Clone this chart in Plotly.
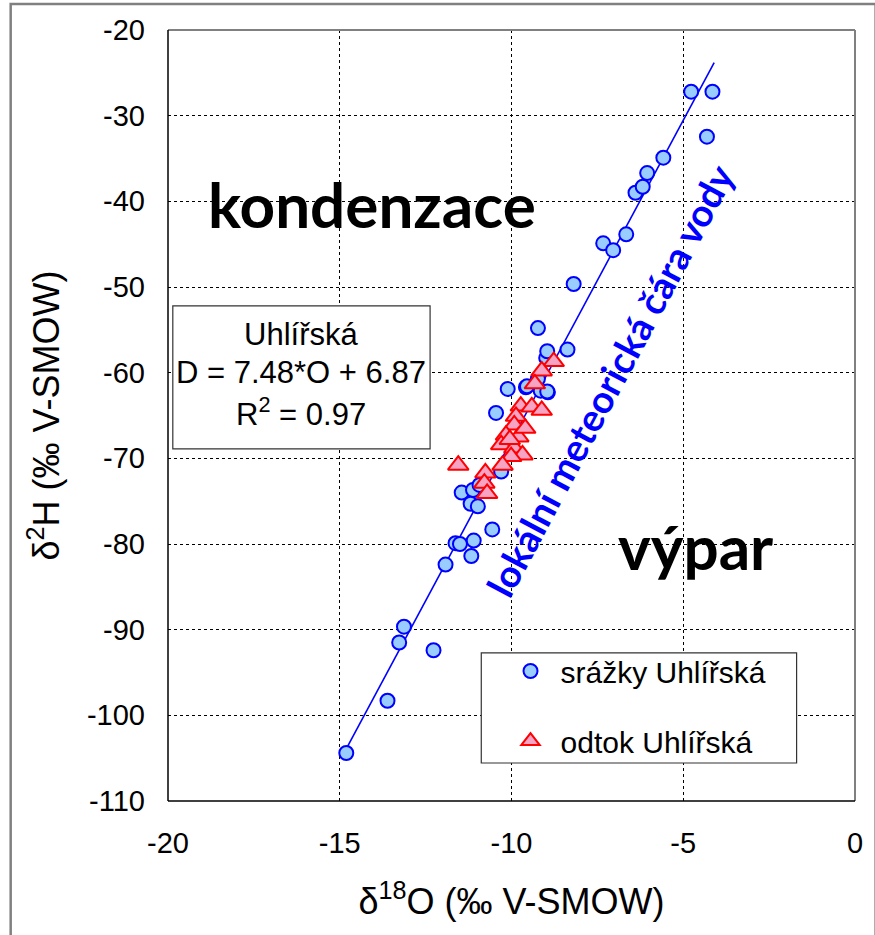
import plotly.graph_objects as go
import numpy as np

# Precipitation (srážky) samples: delta 18O and delta 2H (‰ V-SMOW)
srazky_o18 = [-14.81, -13.61, -13.27, -13.13, -12.27, -11.92, -11.63, -11.50, -11.10,
              -11.17, -11.45, -11.12, -10.93, -11.19, -10.98, -10.56, -10.30, -10.45,
              -10.11, -9.58, -9.15, -8.94, -9.55, -9.23, -8.96, -8.99, -8.96, -8.37,
              -9.23, -8.19, -7.33, -7.04, -6.66, -6.39, -6.18, -6.05, -5.58, -4.77,
              -4.15, -4.31]
srazky_h2 = [-104.4, -98.3, -91.5, -89.65, -92.4, -82.4, -79.9, -80.0, -79.6,
             -81.4, -74.0, -73.7, -73.1, -75.3, -75.6, -78.3, -71.55, -64.7,
             -61.9, -61.7, -62.1, -62.3, -61.6, -60.7, -62.2, -58.3, -57.5, -57.3,
             -54.8, -49.65, -44.9, -45.7, -43.85, -39.0, -38.3, -36.7, -34.9, -27.2,
             -27.2, -32.45]

# Runoff (odtok) samples
odtok_o18 = [-8.77, -9.12, -9.32, -9.73, -9.41, -9.12, -9.87, -9.92, -10.16, -9.80,
             -10.30, -9.92, -9.68, -10.01, -10.26, -11.55, -10.76, -10.79, -10.71,
             -9.60, -10.05]
odtok_h2 = [-58.7, -59.8, -61.3, -63.9, -64.0, -64.4, -65.1, -66.1, -67.3, -67.5,
            -68.4, -68.8, -69.6, -69.8, -70.8, -70.8, -71.7, -72.9, -74.1,
            -66.5, -67.8]

# Local meteoric water line
lmwl_slope = 7.48
lmwl_intercept = 6.87
lmwl_r2 = 0.97
lmwl_range = [-14.9, -4.1]

x_ticks = [-20, -15, -10, -5, 0]
x_labels = ["-20", "-15", "-10", "-5", "0"]
y_ticks = [-20, -30, -40, -50, -60, -70, -80, -90, -100, -110]
y_labels = ["-20", "-30", "-40", "-50", "-60", "-70", "-80", "-90", "-100", "-110"]

FONT = "Arial, Liberation Sans, sans-serif"
BOLD = "Lato, Calibri, sans-serif"

line_x = np.array(lmwl_range)
line_y = lmwl_slope * line_x + lmwl_intercept

fig = go.Figure()
fig.add_trace(go.Scatter(
    x=line_x, y=line_y, mode="lines",
    line=dict(color="#0000ff", width=1.6), showlegend=False, hoverinfo="skip"))
fig.add_trace(go.Scatter(
    x=srazky_o18, y=srazky_h2, mode="markers", name="srážky Uhlířská",
    legendgroup="a",
    marker=dict(symbol="circle", size=14, color="#99ccff",
                line=dict(color="#0000ff", width=2))))
fig.add_trace(go.Scatter(
    x=odtok_o18, y=odtok_h2, mode="markers", name="odtok Uhlířská",
    legendgroup="b",
    marker=dict(symbol="triangle-up", size=18, color="#f7a3c4",
                line=dict(color="#ff0000", width=2))))

grid = dict(showgrid=True, gridcolor="#000000", gridwidth=1, griddash="3px,3px",
            zeroline=False, showline=False, ticks="",
            tickfont=dict(family=FONT, size=29, color="#000000"))

fig.update_xaxes(range=[-20, 0], tickvals=x_ticks, ticktext=x_labels, ticklabelstandoff=22,
                 title=dict(text="δ<sup>18</sup>O (‰ V-SMOW)",
                            font=dict(family=FONT, size=36, color="#000000"),
                            standoff=30),
                 **grid)
fig.update_yaxes(range=[-110, -20], tickvals=y_ticks, ticktext=y_labels, ticklabelstandoff=22,
                 title=dict(text="δ<sup>2</sup>H (‰ V-SMOW)",
                            font=dict(family=FONT, size=36, color="#000000"),
                            standoff=16),
                 **grid)

shapes = [
    # outer frame
    dict(type="rect", xref="paper", yref="paper", x0=-0.229, x1=1.03, y0=-0.19, y1=1.0337,
         line=dict(color="#808080", width=2.5), layer="below"),
    # plot-area borders
    dict(type="line", xref="paper", yref="paper", x0=0, x1=1, y0=1, y1=1,
         line=dict(color="#808080", width=2)),
    dict(type="line", xref="paper", yref="paper", x0=1, x1=1, y0=0, y1=1,
         line=dict(color="#808080", width=2)),
    dict(type="line", xref="paper", yref="paper", x0=0, x1=1, y0=0, y1=0,
         line=dict(color="#000000", width=1.5)),
    dict(type="line", xref="paper", yref="paper", x0=0, x1=0, y0=0, y1=1,
         line=dict(color="#000000", width=1.5)),
    # regression equation box
    dict(type="rect", xref="x", yref="y", x0=-19.86, x1=-12.37, y0=-68.9, y1=-52.2,
         line=dict(color="#333333", width=1.2), fillcolor="#ffffff"),
    # legend frame
    dict(type="rect", xref="paper", yref="paper", x0=0.456, x1=0.915, y0=0.0493, y1=0.192,
         line=dict(color="#333333", width=1.2), fillcolor="#ffffff"),
]
fig.update_layout(shapes=shapes)

eq_font = dict(family=FONT, size=31, color="#000000")
annotations = [
    dict(x=-16.13, y=-55.6, text="Uhlířská", showarrow=False, font=eq_font),
    dict(x=-16.13, y=-60.0, text=f"D = {lmwl_slope}*O + {lmwl_intercept}",
         showarrow=False, font=eq_font),
    dict(x=-16.13, y=-64.6, text=f"R<sup>2</sup> = {lmwl_r2}", showarrow=False, font=eq_font),
    dict(x=-14.05, y=-40.3, text="<b>kondenzace</b>", showarrow=False,
         font=dict(family=BOLD, size=62, color="#000000")),
    dict(x=-4.65, y=-80.2, text="<b>výpar</b>", showarrow=False,
         font=dict(family=BOLD, size=62, color="#000000")),
    dict(x=-7.15, y=-60.8, text="<b>lokální meteorická čára vody</b>", showarrow=False,
         textangle=-62, font=dict(family=BOLD, size=38, color="#0000ff")),
]
fig.update_layout(annotations=annotations)

fig.update_layout(
    width=875, height=935,
    margin=dict(l=168, r=12, t=30, b=134),
    paper_bgcolor="#ffffff", plot_bgcolor="#ffffff",
    font=dict(family=FONT, color="#000000"),
    legend=dict(x=0.484, y=0.2023, xanchor="left", yanchor="top",
                bgcolor="rgba(0,0,0,0)", borderwidth=0,
                font=dict(family=FONT, size=30, color="#000000"),
                tracegroupgap=28, itemwidth=50, itemsizing="trace"),
)

fig.write_html("out.html")
